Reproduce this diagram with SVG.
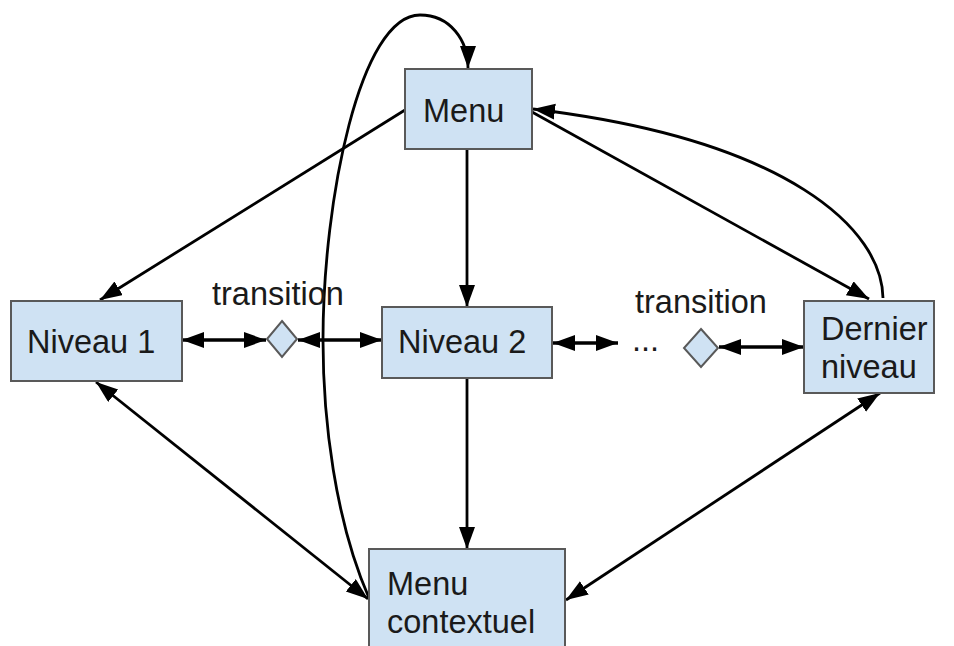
<svg xmlns="http://www.w3.org/2000/svg" width="954" height="646" viewBox="0 0 954 646">
  <defs>
    <marker id="arrow" markerUnits="userSpaceOnUse" markerWidth="24" markerHeight="18" refX="22" refY="8" orient="auto-start-reverse">
      <path d="M0,0 L22,8 L0,16 Z" fill="#000"/>
    </marker>
    <style>
      .box { fill: #cfe2f3; stroke: #595959; stroke-width: 2; }
      .lbl { font-family: "Liberation Sans", Arial, sans-serif; font-size: 32.5px; fill: #1a1a1a; }
      .edge { fill: none; stroke: #000; stroke-width: 2.8; }
      .thick { stroke-width: 3.4; }
      .head { marker-end: url(#arrow); }
      .both { marker-start: url(#arrow); marker-end: url(#arrow); }
    </style>
  </defs>
  <rect width="954" height="646" fill="#fff"/>

  <g id="connectors">
    <!-- Menu to the levels -->
    <line class="edge head" x1="405" y1="110" x2="100" y2="300"/>
    <line class="edge head" x1="467" y1="149" x2="467" y2="307"/>
    <line class="edge head" x1="532" y1="112" x2="869" y2="299"/>
    <!-- back from the last level to Menu -->
    <path class="edge head" d="M 883 298 C 882 230, 790 140, 533 109"/>
    <!-- context menu back to Menu -->
    <path class="edge head" d="M 369 598 C 335 520, 323 420, 323 340 C 323 200, 360 15, 420 15 C 450 15, 468 40, 468 68"/>
    <!-- Niveau 2 down to the context menu -->
    <line class="edge head" x1="467" y1="378" x2="467" y2="549"/>
    <!-- two-way links with the context menu -->
    <line class="edge both" x1="96" y1="382" x2="368" y2="599"/>
    <line class="edge both" x1="880" y1="393" x2="566" y2="600"/>
    <!-- transitions between levels -->
    <line class="edge thick both" x1="182" y1="340" x2="266" y2="340"/>
    <line class="edge thick both" x1="298" y1="340" x2="382" y2="340"/>
    <line class="edge thick both" x1="553" y1="343" x2="618" y2="343"/>
    <line class="edge thick both" x1="719" y1="347" x2="804" y2="347"/>
  </g>

  <g id="menu">
    <rect class="box" x="405" y="69" width="127" height="80"/>
    <text class="lbl" x="423" y="122">Menu</text>
  </g>

  <g id="niveau1">
    <rect class="box" x="11" y="301" width="171" height="80"/>
    <text class="lbl" x="27" y="353">Niveau 1</text>
  </g>

  <g id="transition1">
    <polygon class="box" points="282,321 297,339 282,357 267,339"/>
    <text class="lbl" x="212" y="305">transition</text>
  </g>

  <g id="niveau2">
    <rect class="box" x="382" y="307" width="170" height="71"/>
    <text class="lbl" x="398" y="353">Niveau 2</text>
  </g>

  <g id="ellipsis">
    <text class="lbl" x="632" y="351">...</text>
  </g>

  <g id="transition2">
    <polygon class="box" points="701,329 718,348 701,367 684,348"/>
    <text class="lbl" x="635" y="313">transition</text>
  </g>

  <g id="dernier-niveau">
    <rect class="box" x="804" y="301" width="130" height="92"/>
    <text class="lbl" x="821" y="340">Dernier</text>
    <text class="lbl" x="821" y="378">niveau</text>
  </g>

  <g id="menu-contextuel">
    <rect class="box" x="369" y="549" width="196" height="110"/>
    <text class="lbl" x="387" y="595">Menu</text>
    <text class="lbl" x="387" y="633">contextuel</text>
  </g>
</svg>
